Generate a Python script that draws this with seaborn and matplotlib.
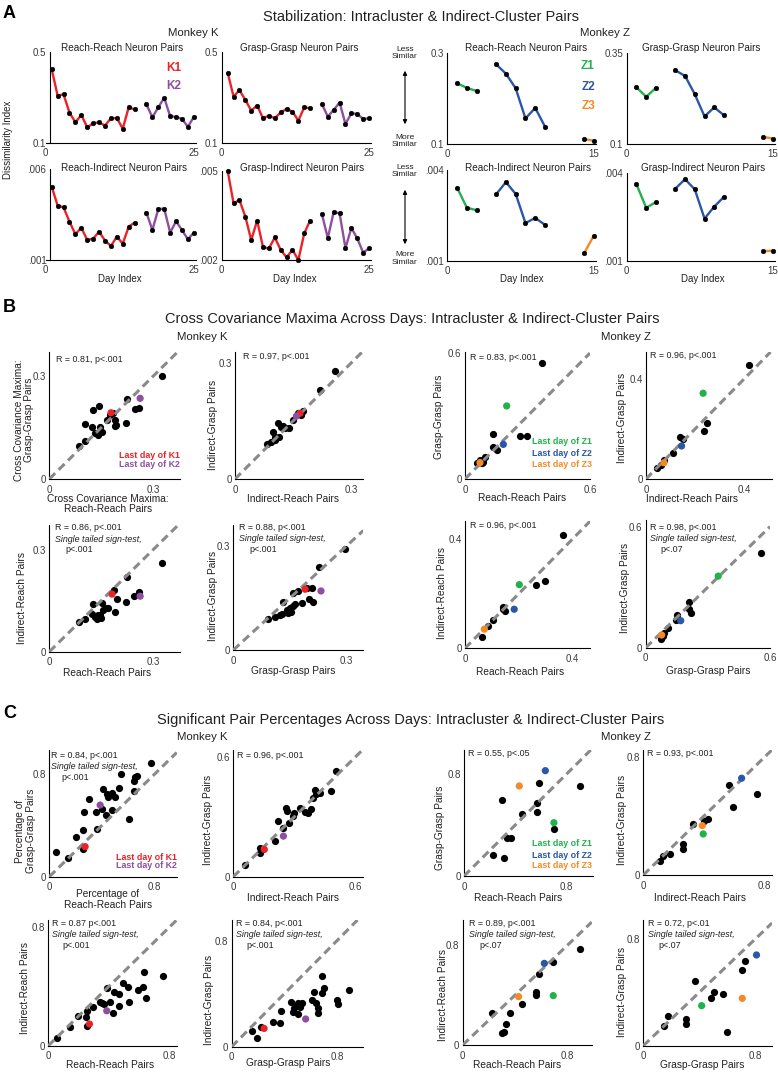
import numpy as np
import pandas as pd
import matplotlib
matplotlib.use('Agg')
import matplotlib.pyplot as plt
from matplotlib.patches import FancyArrowPatch
import seaborn as sns

# ------------------------------------------------------------------ DATA
# Section A: dissimilarity index per day
K1_days = [1, 2, 3, 4, 5, 6, 7, 8, 9, 10, 11, 12, 13, 14, 15]
K2_days = [17, 18, 19, 20, 21, 22, 23, 24, 25]
Z1_days = [1, 2, 3]
Z2_days = [5, 6, 7, 8, 9, 10]
Z3_days = [14, 15]

RR_K1 = [0.425, 0.31, 0.315, 0.235, 0.192, 0.225, 0.170, 0.188, 0.192, 0.178, 0.21, 0.211, 0.164, 0.258, 0.249]
RR_K2 = [0.271, 0.214, 0.258, 0.30, 0.219, 0.216, 0.207, 0.173, 0.216]
GG_K1 = [0.41, 0.305, 0.334, 0.29, 0.244, 0.266, 0.21, 0.222, 0.21, 0.236, 0.251, 0.239, 0.2, 0.258, 0.254]
GG_K2 = [0.273, 0.217, 0.247, 0.279, 0.185, 0.232, 0.229, 0.207, 0.21]
RI_K1 = [0.00504, 0.0040, 0.0039, 0.00311, 0.00242, 0.00278, 0.0021, 0.00218, 0.00256, 0.00207, 0.00177, 0.00229, 0.0019, 0.00284, 0.00306]
RI_K2 = [0.00361, 0.00265, 0.00381, 0.00383, 0.00251, 0.00313, 0.00265, 0.00214, 0.00251]
GI_K1 = [0.005, 0.00391, 0.00402, 0.00346, 0.00267, 0.00333, 0.00243, 0.00239, 0.00276, 0.00234, 0.00209, 0.00234, 0.002, 0.0029, 0.00333]
GI_K2 = [0.00355, 0.00274, 0.00362, 0.00357, 0.0024, 0.00308, 0.00273, 0.00225, 0.00239]

RR_Z1 = [0.233, 0.223, 0.216]
RR_Z2 = [0.2745, 0.254, 0.222, 0.156, 0.179, 0.138]
RR_Z3 = [0.111, 0.107]
GG_Z1 = [0.256, 0.2305, 0.2544]
GG_Z2 = [0.303, 0.2875, 0.237, 0.176, 0.201, 0.179]
GG_Z3 = [0.120, 0.115]
RI_Z1 = [0.00342, 0.00276, 0.00267]
RI_Z2 = [0.0032, 0.0036, 0.00321, 0.00225, 0.00242, 0.00219]
RI_Z3 = [0.00125, 0.00184]
GI_Z1 = [0.00361, 0.00281, 0.003]
GI_Z2 = [0.00346, 0.00378, 0.00343, 0.00244, 0.00285, 0.00318]
GI_Z3 = [0.00133, 0.00135]

# Section B: cross covariance maxima (black = all days, hl = last days)
B1_x = [0.085, 0.103, 0.103, 0.125, 0.142, 0.122, 0.132, 0.141, 0.151, 0.146, 0.165, 0.175, 0.19, 0.192, 0.19, 0.221, 0.225, 0.246, 0.26, 0.324, 0.185]
B1_y = [0.096, 0.112, 0.16, 0.2, 0.213, 0.152, 0.133, 0.128, 0.138, 0.152, 0.172, 0.186, 0.172, 0.157, 0.155, 0.162, 0.233, 0.204, 0.207, 0.301, 0.193]
B1_hl = [(0.178, 0.193), (0.262, 0.235)]
B2_x = [0.082, 0.092, 0.099, 0.103, 0.115, 0.112, 0.119, 0.129, 0.141, 0.151, 0.162, 0.177, 0.22, 0.26, 0.103, 0.125, 0.172]
B2_y = [0.091, 0.097, 0.123, 0.11, 0.11, 0.144, 0.136, 0.131, 0.131, 0.153, 0.17, 0.175, 0.231, 0.281, 0.101, 0.137, 0.166]
B2_hl = [(0.168, 0.17), (0.159, 0.163)]
B3_x = [0.085, 0.103, 0.127, 0.122, 0.132, 0.139, 0.146, 0.151, 0.156, 0.17, 0.19, 0.196, 0.187, 0.22, 0.225, 0.245, 0.26, 0.324, 0.14, 0.15, 0.164]
B3_y = [0.088, 0.095, 0.139, 0.112, 0.103, 0.096, 0.108, 0.142, 0.122, 0.127, 0.117, 0.156, 0.181, 0.145, 0.22, 0.163, 0.176, 0.259, 0.108, 0.098, 0.129]
B3_hl = [(0.181, 0.169), (0.262, 0.163)]
B4_x = [0.093, 0.11, 0.128, 0.132, 0.141, 0.15, 0.154, 0.159, 0.163, 0.157, 0.172, 0.181, 0.201, 0.212, 0.207, 0.228, 0.296, 0.123, 0.146, 0.194]
B4_y = [0.088, 0.096, 0.104, 0.139, 0.115, 0.12, 0.11, 0.127, 0.133, 0.163, 0.17, 0.135, 0.146, 0.137, 0.178, 0.238, 0.29, 0.1, 0.108, 0.178]
B4_hl = [(0.19, 0.175), (0.232, 0.17)]
B5_x = [0.368, 0.136, 0.264, 0.296, 0.136, 0.152, 0.096, 0.072, 0.088, 0.059, 0.08]
B5_y = [0.551, 0.214, 0.206, 0.206, 0.154, 0.138, 0.106, 0.09, 0.083, 0.075, 0.075]
B5_hl = [(0.2, 0.348), (0.184, 0.165), (0.072, 0.078)]
B6_x = [0.42, 0.247, 0.236, 0.138, 0.152, 0.109, 0.073, 0.043, 0.06]
B6_y = [0.456, 0.223, 0.193, 0.167, 0.159, 0.103, 0.076, 0.043, 0.056]
B6_hl = [(0.233, 0.343), (0.145, 0.132), (0.073, 0.065)]
B7_x = [0.366, 0.297, 0.263, 0.143, 0.149, 0.141, 0.103, 0.084, 0.062]
B7_y = [0.416, 0.247, 0.233, 0.151, 0.138, 0.144, 0.104, 0.08, 0.043]
B7_hl = [(0.202, 0.233), (0.183, 0.143), (0.072, 0.07)]
B8_x = [0.555, 0.209, 0.209, 0.219, 0.15, 0.146, 0.109, 0.088, 0.072, 0.083]
B8_y = [0.468, 0.228, 0.19, 0.17, 0.162, 0.137, 0.096, 0.071, 0.041, 0.06]
B8_hl = [(0.35, 0.355), (0.169, 0.134), (0.077, 0.063)]

# Section C: significant pair percentages
C1_x = [0.051, 0.145, 0.203, 0.254, 0.259, 0.264, 0.305, 0.36, 0.355, 0.398, 0.406, 0.431, 0.437, 0.443, 0.475, 0.475, 0.5, 0.53, 0.543, 0.602, 0.64, 0.645, 0.652, 0.665, 0.772]
C1_y = [0.192, 0.148, 0.312, 0.364, 0.216, 0.501, 0.603, 0.371, 0.501, 0.527, 0.681, 0.481, 0.644, 0.62, 0.649, 0.519, 0.623, 0.694, 0.8, 0.449, 0.67, 0.748, 0.774, 0.784, 0.883]
C1_hl = [(0.272, 0.234), (0.386, 0.558)]
C2_x = [0.058, 0.132, 0.132, 0.206, 0.222, 0.243, 0.26, 0.263, 0.276, 0.293, 0.299, 0.329, 0.354, 0.37, 0.382, 0.395, 0.403, 0.408, 0.428, 0.482, 0.505]
C2_y = [0.059, 0.121, 0.142, 0.179, 0.281, 0.243, 0.343, 0.33, 0.268, 0.305, 0.322, 0.343, 0.327, 0.322, 0.338, 0.394, 0.436, 0.415, 0.419, 0.432, 0.533]
C2_hl = [(0.153, 0.137), (0.247, 0.204)]
C3_x = [0.059, 0.143, 0.198, 0.247, 0.253, 0.258, 0.297, 0.341, 0.368, 0.39, 0.407, 0.425, 0.434, 0.463, 0.469, 0.491, 0.522, 0.529, 0.588, 0.623, 0.628, 0.645, 0.755, 0.352]
C3_y = [0.052, 0.123, 0.2, 0.195, 0.135, 0.235, 0.262, 0.296, 0.28, 0.386, 0.291, 0.217, 0.359, 0.345, 0.267, 0.419, 0.397, 0.296, 0.374, 0.397, 0.498, 0.323, 0.471, 0.285]
C3_hl = [(0.271, 0.146), (0.385, 0.235)]
C4_x = [0.157, 0.195, 0.22, 0.316, 0.367, 0.372, 0.448, 0.476, 0.489, 0.501, 0.506, 0.537, 0.608, 0.625, 0.638, 0.658, 0.658, 0.684, 0.701, 0.684, 0.797, 0.805, 0.891, 0.519, 0.463]
C4_y = [0.121, 0.068, 0.151, 0.189, 0.181, 0.272, 0.335, 0.289, 0.309, 0.244, 0.327, 0.327, 0.352, 0.415, 0.327, 0.289, 0.257, 0.403, 0.44, 0.536, 0.352, 0.322, 0.428, 0.302, 0.264]
C4_hl = [(0.246, 0.138), (0.562, 0.209)]
C5_x = [0.229, 0.314, 0.296, 0.332, 0.364, 0.449, 0.566, 0.566, 0.587, 0.701, 0.904]
C5_y = [0.165, 0.144, 0.596, 0.301, 0.301, 0.484, 0.505, 0.575, 0.732, 0.366, 0.706]
C5_hl = [(0.701, 0.418), (0.634, 0.826), (0.431, 0.706)]
C6_x = [0.11, 0.128, 0.176, 0.26, 0.264, 0.33, 0.401, 0.43, 0.568, 0.595, 0.755]
C6_y = [0.095, 0.132, 0.143, 0.211, 0.175, 0.345, 0.37, 0.381, 0.612, 0.465, 0.549]
C6_hl = [(0.396, 0.279), (0.65, 0.658), (0.39, 0.336)]
C7_x = [0.226, 0.297, 0.315, 0.33, 0.36, 0.449, 0.558, 0.558, 0.581, 0.69, 0.893]
C7_y = [0.253, 0.093, 0.107, 0.168, 0.259, 0.328, 0.4, 0.427, 0.568, 0.661, 0.768]
C7_hl = [(0.69, 0.395), (0.622, 0.653), (0.426, 0.387)]
C8_x = [0.148, 0.174, 0.303, 0.303, 0.37, 0.484, 0.508, 0.573, 0.597, 0.709, 0.728]
C8_y = [0.148, 0.223, 0.198, 0.163, 0.489, 0.356, 0.401, 0.386, 0.1, 0.569, 0.637]
C8_hl = [(0.418, 0.301), (0.811, 0.682), (0.709, 0.356)]

K_names = ['K1', 'K2']
Z_names = ['Z1', 'Z2', 'Z3']

# ------------------------------------------------------------------ STYLE
sns.set_style('white')
plt.rcParams['font.family'] = ['Liberation Sans', 'DejaVu Sans']
plt.rcParams['axes.linewidth'] = 0.8

RED, PURPLE = '#ec2227', '#8e4fa0'
GREEN, BLUE, ORANGE = '#22b24c', '#2a57a6', '#f58a25'
GRAY = '#8a8a8a'
TXT = '#231f20'
TICKC = '#3a3a3a'
PAL = {'K1': RED, 'K2': PURPLE, 'Z1': GREEN, 'Z2': BLUE, 'Z3': ORANGE}

W, H = 778, 1072
fig = plt.figure(figsize=(W / 100, H / 100), dpi=100)


def rect(l, t, r, b):
    return [l / W, 1 - b / H, (r - l) / W, (b - t) / H]


def ftext(x, y, s, **kw):
    kw.setdefault('ha', 'left')
    kw.setdefault('va', 'center')
    kw.setdefault('color', TXT)
    fig.text(x / W, 1 - y / H, s, **kw)


def style(ax, xlim, xt, xtl, ylim, yt, ytl, xpad=4.0):
    ax.set_xlim(*xlim)
    ax.set_ylim(*ylim)
    ax.set_xticks(xt)
    ax.set_xticklabels(xtl)
    ax.set_yticks(yt)
    ax.set_yticklabels(ytl)
    ax.set_xlabel('')
    ax.set_ylabel('')
    for s in ['top', 'right']:
        ax.spines[s].set_visible(False)
    for s in ['left', 'bottom']:
        ax.spines[s].set_color('black')
        ax.spines[s].set_linewidth(0.8)
    ax.tick_params(direction='in', length=3, width=0.8, color='black',
                   labelsize=7, labelcolor=TICKC)
    ax.tick_params(axis='x', pad=xpad)
    ax.tick_params(axis='y', pad=2.5)
    ax.patch.set_alpha(0)


# ------------------------------------------------------------------ SECTION A
def line_panel(r, segs, xlim, xt, xtl, ylim, yt, ytl, spine_x=None):
    ax = fig.add_axes(rect(*r))
    df = pd.concat([pd.DataFrame({'day': d, 'value': v, 'seg': n}) for n, d, v in segs],
                   ignore_index=True)
    sns.lineplot(data=df, x='day', y='value', hue='seg', palette=PAL, estimator=None,
                 marker='o', markersize=3.4, markerfacecolor='black',
                 markeredgecolor='black', markeredgewidth=0.3, linewidth=1.7,
                 legend=False, ax=ax, clip_on=False)
    style(ax, xlim, xt, xtl, ylim, yt, ytl, xpad=3.6)
    if spine_x is not None:
        ax.spines['left'].set_position(('data', spine_x))
    return ax


kxt, kxtl = [0, 5, 10, 15, 20, 25], ['0', '', '', '', '', '25']
zxt, zxtl = [0, 5, 10, 15], ['0', '', '', '15']

line_panel((45.8, 52.3, 195.6, 143.3), [('K1', K1_days, RR_K1), ('K2', K2_days, RR_K2)],
           (0, 25.3), kxt, kxtl, (0.1, 0.5), [0.1, 0.2, 0.3, 0.5], ['0.1', '', '', '0.5'], 0.7)
line_panel((221.8, 52.3, 370.8, 143.3), [('K1', K1_days, GG_K1), ('K2', K2_days, GG_K2)],
           (0, 25.3), kxt, kxtl, (0.1, 0.5), [0.1, 0.2, 0.3, 0.5], ['0.1', '', '', '0.5'])
line_panel((45.8, 169.3, 195.6, 260), [('K1', K1_days, RI_K1), ('K2', K2_days, RI_K2)],
           (0, 25.3), kxt, kxtl, (0.001, 0.006), [0.001, 0.006], ['.001', '.006'], 0.7)
line_panel((221.8, 171, 370.8, 260), [('K1', K1_days, GI_K1), ('K2', K2_days, GI_K2)],
           (0, 25.3), kxt, kxtl, (0.002, 0.005), [0.002, 0.003, 0.004, 0.005],
           ['.002', '', '', '.005'])
line_panel((447.3, 52.7, 595.8, 144),
           [('Z1', Z1_days, RR_Z1), ('Z2', Z2_days, RR_Z2), ('Z3', Z3_days, RR_Z3)],
           (0, 15.2), zxt, zxtl, (0.1, 0.3), [0.1, 0.15, 0.2, 0.25, 0.3],
           ['0.1', '', '', '', '0.3'])
line_panel((626.7, 53.3, 774.6, 144),
           [('Z1', Z1_days, GG_Z1), ('Z2', Z2_days, GG_Z2), ('Z3', Z3_days, GG_Z3)],
           (0, 15.2), zxt, zxtl, (0.1, 0.35), [0.1, 0.15, 0.2, 0.25, 0.3, 0.35],
           ['0.1', '', '', '', '', '0.35'])
line_panel((447.3, 170, 595.8, 261),
           [('Z1', Z1_days, RI_Z1), ('Z2', Z2_days, RI_Z2), ('Z3', Z3_days, RI_Z3)],
           (0, 15.2), zxt, zxtl, (0.001, 0.004), [0.001, 0.002, 0.003, 0.004],
           ['.001', '', '', '.004'])
line_panel((626.7, 172.7, 774.6, 261),
           [('Z1', Z1_days, GI_Z1), ('Z2', Z2_days, GI_Z2), ('Z3', Z3_days, GI_Z3)],
           (0, 15.2), zxt, zxtl, (0.001, 0.004), [0.001, 0.002, 0.003, 0.004],
           ['.001', '', '', '.004'])

# Section A texts
ftext(3, 13, 'A', fontsize=13, fontweight='bold', color='black')
ftext(421, 17, 'Stabilization: Intracluster & Indirect-Cluster Pairs', ha='center', fontsize=10.5)
ftext(193, 33, 'Monkey K', ha='center', fontsize=8.2)
ftext(605, 33, 'Monkey Z', ha='center', fontsize=8.2)
for x, y, s in [(122, 48, 'Reach-Reach Neuron Pairs'), (299, 48, 'Grasp-Grasp Neuron Pairs'),
                (124, 168, 'Reach-Indirect Neuron Pairs'), (302, 168, 'Grasp-Indirect Neuron Pairs'),
                (526, 48, 'Reach-Reach Neuron Pairs'), (701, 48, 'Grasp-Grasp Neuron Pairs'),
                (528, 168, 'Reach-Indirect Neuron Pairs'), (703, 168, 'Grasp-Indirect Neuron Pairs')]:
    ftext(x, y, s, ha='center', fontsize=7.2)
for x in [120, 295, 522, 703]:
    ftext(x, 279, 'Day Index', ha='center', fontsize=7)
ftext(8, 140, 'Dissimilarity Index', ha='center', rotation=90, fontsize=7)
for name, y in zip(K_names, [68, 86]):
    ftext(174, y, name, ha='center', fontsize=8.5, fontweight='bold', color=PAL[name])
for name, y in zip(Z_names, [66, 87, 106]):
    ftext(588, y, name, ha='center', fontsize=8.5, fontweight='bold', color=PAL[name])
for ytop, ybot, a0, a1 in [(53, 141, 68, 127), (171, 258.5, 187, 247)]:
    ftext(405, ytop, 'Less\nSimilar', ha='center', fontsize=6, linespacing=1.0)
    ftext(405, ybot, 'More\nSimilar', ha='center', fontsize=6, linespacing=1.0)
    fig.add_artist(FancyArrowPatch((405 / W, 1 - a0 / H), (405 / W, 1 - a1 / H),
                                   transform=fig.transFigure, arrowstyle='<|-|>',
                                   mutation_scale=6, lw=0.8, color='black'))


# ------------------------------------------------------------------ SCATTER PANELS
def scatter_panel(r, xs, ys, hl, names, lim, ticks, tlabels):
    ax = fig.add_axes(rect(*r))
    sns.scatterplot(x=xs, y=ys, color='black', s=27, linewidth=0, ax=ax,
                    clip_on=False, zorder=2)
    ax.axline((0, 0), slope=1, color=GRAY, lw=2.2, linestyle=(0, (2.7, 1.6)), zorder=3)
    sns.scatterplot(x=[p[0] for p in hl], y=[p[1] for p in hl], hue=names[:len(hl)],
                    palette=PAL, s=27, linewidth=0, legend=False, ax=ax,
                    clip_on=False, zorder=4)
    style(ax, (0, lim[0]), ticks[0], tlabels[0], (0, lim[1]), ticks[1], tlabels[1])
    return ax


t3 = [0, 0.1, 0.2, 0.3]; l3 = ['0', '', '', '0.3']
t6 = [0, 0.2, 0.4, 0.6]; l6 = ['0', '', '', '0.6']
t4 = [0, 0.2, 0.4]; l4 = ['0', '', '0.4']
t41 = [0, 0.1, 0.2, 0.3, 0.4]; l41 = ['0', '', '', '', '0.4']
t8 = [0, 0.2, 0.4, 0.6, 0.8]; l8 = ['0', '', '', '', '0.8']

scatter_panel((49.3, 352, 180, 479), B1_x, B1_y, B1_hl, K_names, (0.377, 0.37), (t3, t3), (l3, l3))
scatter_panel((235, 352, 363.3, 479), B2_x, B2_y, B2_hl, K_names, (0.332, 0.329), (t3, t3), (l3, l3))
scatter_panel((49.3, 525, 180, 651.7), B3_x, B3_y, B3_hl, K_names, (0.377, 0.372), (t3, t3), (l3, l3))
scatter_panel((233.3, 525, 363.3, 650), B4_x, B4_y, B4_hl, K_names, (0.344, 0.36), (t3, t3), (l3, l3))
scatter_panel((465, 352, 590, 479), B5_x, B5_y, B5_hl, Z_names, (0.6, 0.605), (t6, t6), (l6, l6))
scatter_panel((646, 352, 772, 479), B6_x, B6_y, B6_hl, Z_names, (0.514, 0.508), (t4, t4), (l4, l4))
scatter_panel((465, 521, 590, 648.3), B7_x, B7_y, B7_hl, Z_names, (0.465, 0.466), (t41, t41), (l41, l41))
scatter_panel((645.7, 520, 770, 647.7), B8_x, B8_y, B8_hl, Z_names, (0.6, 0.633), (t6, t6), (l6, l6))

scatter_panel((49.3, 750, 176.7, 876.7), C1_x, C1_y, C1_hl, K_names, (0.967, 0.987), (t8, t8), (l8, l8))
scatter_panel((233.3, 750, 363.3, 876.7), C2_x, C2_y, C2_hl, K_names, (0.641, 0.637), (t6, t6), (l6, l6))
scatter_panel((48.3, 920, 176.7, 1045.7), C3_x, C3_y, C3_hl, K_names, (0.846, 0.846), (t8, t8), (l8, l8))
scatter_panel((231.7, 920, 363.3, 1046.7), C4_x, C4_y, C4_hl, K_names, (1.0, 0.956), (t8, t8), (l8, l8))
scatter_panel((464, 750, 593.3, 876), C5_x, C5_y, C5_hl, Z_names, (1.008, 0.988), (t8, t8), (l8, l8))
scatter_panel((643.3, 750, 771.7, 875), C6_x, C6_y, C6_hl, Z_names, (0.849, 0.85), (t8, t8), (l8, l8))
scatter_panel((462.7, 920, 591.7, 1045), C7_x, C7_y, C7_hl, Z_names, (0.983, 1.0), (t8, t8), (l8, l8))
scatter_panel((643.3, 920, 772, 1045.7), C8_x, C8_y, C8_hl, Z_names, (0.922, 0.945), (t8, t8), (l8, l8))

# Section B / C headings
ftext(3, 308, 'B', fontsize=13, fontweight='bold', color='black')
ftext(412, 319, 'Cross Covariance Maxima Across Days: Intracluster & Indirect-Cluster Pairs',
      ha='center', fontsize=10.5)
ftext(202, 337, 'Monkey K', ha='center', fontsize=8.2)
ftext(626, 337, 'Monkey Z', ha='center', fontsize=8.2)
ftext(3, 714, 'C', fontsize=13, fontweight='bold', color='black')
ftext(411, 720, 'Significant Pair Percentages Across Days: Intracluster & Indirect-Cluster Pairs',
      ha='center', fontsize=10.5)
ftext(202, 737, 'Monkey K', ha='center', fontsize=8.2)
ftext(626, 737, 'Monkey Z', ha='center', fontsize=8.2)

# axis labels
xlabels = [(108, 504, 'Cross Covariance Maxima:\nReach-Reach Pairs'), (293, 499, 'Indirect-Reach Pairs'),
           (107, 673, 'Reach-Reach Pairs'), (293, 671, 'Grasp-Grasp Pairs'),
           (522, 498, 'Reach-Reach Pairs'), (692, 499, 'Indirect-Reach Pairs'),
           (520, 672, 'Reach-Reach Pairs'), (708, 671, 'Grasp-Grasp Pairs'),
           (108, 899.5, 'Percentage of\nReach-Reach Pairs'), (293, 898, 'Indirect-Reach Pairs'),
           (110, 1065, 'Reach-Reach Pairs'), (288, 1063, 'Grasp-Grasp Pairs'),
           (518, 898, 'Reach-Reach Pairs'), (700, 898, 'Indirect-Reach Pairs'),
           (517, 1065, 'Reach-Reach Pairs'), (702, 1065, 'Grasp-Grasp Pairs')]
for x, y, s in xlabels:
    ftext(x, y, s, ha='center', fontsize=7.3, linespacing=1.1)
ylabels = [(24, 420, 'Cross Covariance Maxima:\nGrasp-Grasp Pairs'), (213, 425, 'Indirect-Grasp Pairs'),
           (22, 598, 'Indirect-Reach Pairs'), (213, 596, 'Indirect-Grasp Pairs'),
           (439, 417, 'Grasp-Grasp Pairs'), (622, 418, 'Indirect-Grasp Pairs'),
           (442, 593, 'Indirect-Reach Pairs'), (625, 588, 'Indirect-Grasp Pairs'),
           (25.5, 831, 'Percentage of\nGrasp-Grasp Pairs'), (208, 820, 'Indirect-Grasp Pairs'),
           (25, 988, 'Indirect-Reach Pairs'), (209, 1000, 'Indirect-Grasp Pairs'),
           (440, 828, 'Grasp-Grasp Pairs'), (622, 820, 'Indirect-Grasp Pairs'),
           (443, 995, 'Indirect-Reach Pairs'), (622, 992, 'Indirect-Grasp Pairs')]
for x, y, s in ylabels:
    ftext(x, y, s, ha='center', rotation=90, fontsize=7.3, linespacing=1.1)

# statistics text
stats = [(56, 359, 'R = 0.81, p<.001', None), (243, 357, 'R = 0.97, p<.001', None),
         (55, 528, 'R = 0.86, p<.001', 'p<.001'), (239, 527, 'R = 0.88, p<.001', 'p<.001'),
         (470, 358, 'R = 0.83, p<.001', None), (650, 356, 'R = 0.96, p<.001', None),
         (470, 525, 'R = 0.96, p<.001', None), (650, 527, 'R = 0.98, p<.001', 'p<.07'),
         (51, 755, 'R = 0.84, p<.001', 'p<.001'), (237, 756, 'R = 0.96, p<.001', None),
         (52, 923, 'R = 0.87 p<.001', 'p<.001'), (236, 923, 'R = 0.84, p<.001', 'p<.001'),
         (468, 754, 'R = 0.55, p<.05', None), (647, 754, 'R = 0.93, p<.001', None),
         (469, 923, 'R = 0.89, p<.001', 'p<.07'), (648, 923, 'R = 0.72, p<.01', 'p<.07')]
for x, y, s, sign in stats:
    ftext(x, y, s, fontsize=6.4)
    if sign is not None:
        ftext(x, y + 11.5, 'Single tailed sign-test,', fontsize=6.4, style='italic')
        ftext(x + 10, y + 22, sign, fontsize=6.4)

# last-day legends
for xr, ys, names in [(180, [455, 465], K_names), (592, [442, 454, 465], Z_names),
                      (177, [857, 866], K_names), (592, [843, 855, 866], Z_names)]:
    for y, n in zip(ys, names):
        ftext(xr, y, 'Last day of ' + n, ha='right', fontsize=6.4, fontweight='bold', color=PAL[n])

fig.savefig('out.png', dpi=100)
